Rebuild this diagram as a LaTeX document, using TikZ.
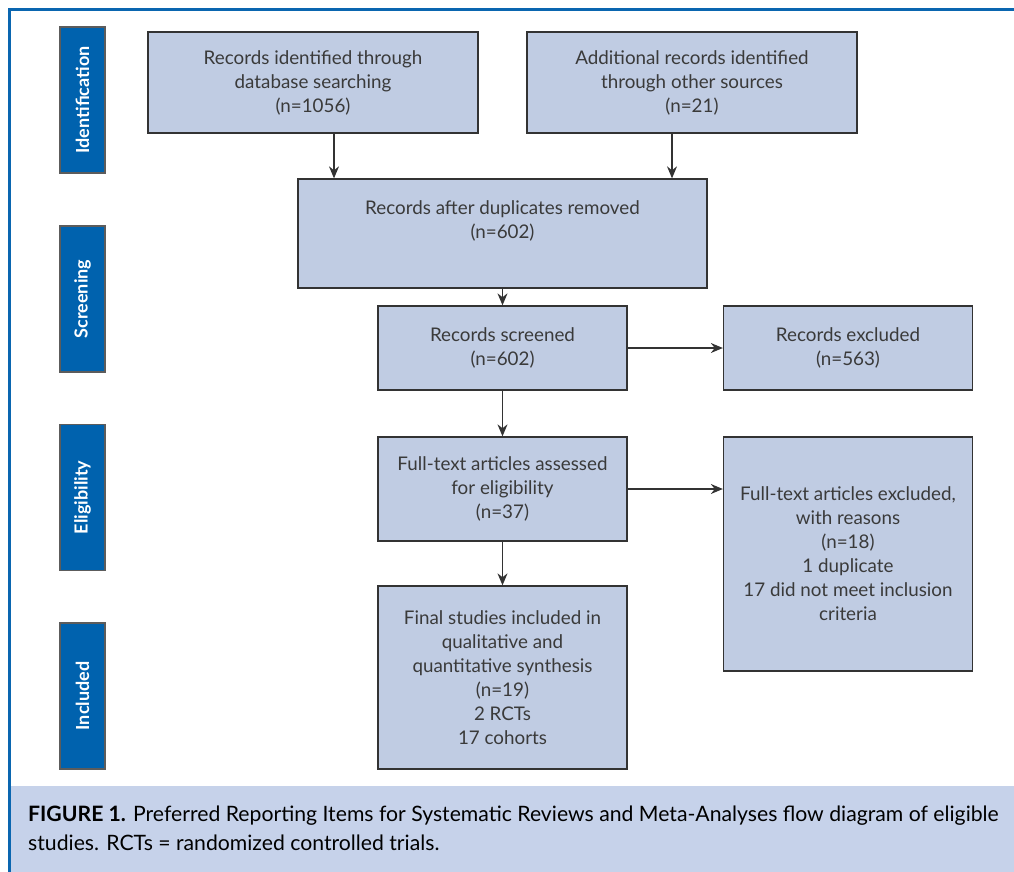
\documentclass[tikz,border=0pt]{standalone}
\usepackage{fontspec}
\setmainfont{Lato}
\newfontfamily\capfont{Lato}
\usetikzlibrary{arrows.meta,calc}
\definecolor{framebl}{HTML}{0A66B0}
\definecolor{barbl}{HTML}{0062AE}
\definecolor{boxfill}{HTML}{C0CCE3}
\definecolor{capfill}{HTML}{C6D2EA}
\definecolor{txt}{HTML}{3A3A3A}
\definecolor{edge}{HTML}{333333}
\tikzset{
  flowbox/.style={draw=edge, line width=1.3pt, fill=boxfill, text=txt, align=center, font=\fontsize{18.8}{24}\selectfont, inner sep=0pt},
  phasebar/.style={draw=edge!80, line width=1.2pt, fill=barbl, text=white, font=\fontsize{18}{20}\selectfont\bfseries, inner sep=0pt, minimum width=45pt, minimum height=146pt},
  arr/.style={draw=edge, line width=1.3pt, -{Stealth[length=12pt,width=10pt]}}
}
\begin{document}
\begin{tikzpicture}[x=1pt,y=1pt]
\useasboundingbox (0,0) rectangle (1014,-872);
% caption background
\fill[capfill] (11,-786) rectangle (1014,-872);
% frame
\draw[framebl, line width=3pt] (1014,-9.5) -- (9.5,-9.5) -- (9.5,-872);
% phase bars
\node[phasebar] (p1) at (82.5,-100) {\rotatebox{90}{Identification}};
\node[phasebar] (p2) at (82.5,-299) {\rotatebox{90}{Screening}};
\node[phasebar] (p3) at (82.5,-497.5) {\rotatebox{90}{Eligibility}};
\node[phasebar] (p4) at (82.5,-696) {\rotatebox{90}{Included}};
% boxes
\node[flowbox, minimum width=330pt, minimum height=101pt] (b1) at (313,-82.5) {Records identified through\\database searching\\(n=1056)};
\node[flowbox, minimum width=330pt, minimum height=101pt] (b2) at (692,-82.5) {Additional records identified\\through other sources\\(n=21)};
\node[flowbox, minimum width=409pt, minimum height=109pt] (b3) at (502.5,-233.5) {};
\node[text=txt, align=center, font=\fontsize{18.8}{24}\selectfont, inner sep=0pt] (b3t) at (502.5,-221) {Records after duplicates removed\\(n=602)};
\node[flowbox, minimum width=249pt, minimum height=84pt] (b4) at (502.5,-348) {Records screened\\(n=602)};
\node[flowbox, minimum width=249pt, minimum height=84pt] (b5) at (848,-348) {Records excluded\\(n=563)};
\node[flowbox, minimum width=249pt, minimum height=104pt] (b6) at (502.5,-489) {Full-text articles assessed\\for eligibility\\(n=37)};
\node[flowbox, minimum width=249pt, minimum height=234pt] (b7) at (848,-554) {Full-text articles excluded,\\with reasons\\(n=18)\\1 duplicate\\17 did not meet inclusion\\criteria};
\node[flowbox, minimum width=249pt, minimum height=183pt] (b8) at (502.5,-677.5) {Final studies included in\\qualitative and\\quantitative synthesis\\(n=19)\\2 RCTs\\17 cohorts};
% arrows
\draw[arr] ([xshift=21pt]b1.south) -- ([xshift=21pt]b1.south |- b3.north);
\draw[arr] ([xshift=-20pt]b2.south) -- ([xshift=-20pt]b2.south |- b3.north);
\draw[arr] (b3.south) -- (b4.north);
\draw[arr] (b4.east) -- (b5.west);
\draw[arr] (b4.south) -- (b6.north);
\draw[arr] (b6.east) -- (b6.east -| b7.west);
\draw[arr] (b6.south) -- (b8.north);
% caption
\node[anchor=north west, align=left, text=black, inner sep=0pt, font=\capfont\fontsize{21.2}{29}\selectfont] (cap) at (28,-806) {\textbf{FIGURE 1.} Preferred Reporting Items for Systematic Reviews and Meta-Analyses flow diagram of eligible\\studies. RCTs = randomized controlled trials.};
\end{tikzpicture}
\end{document}
